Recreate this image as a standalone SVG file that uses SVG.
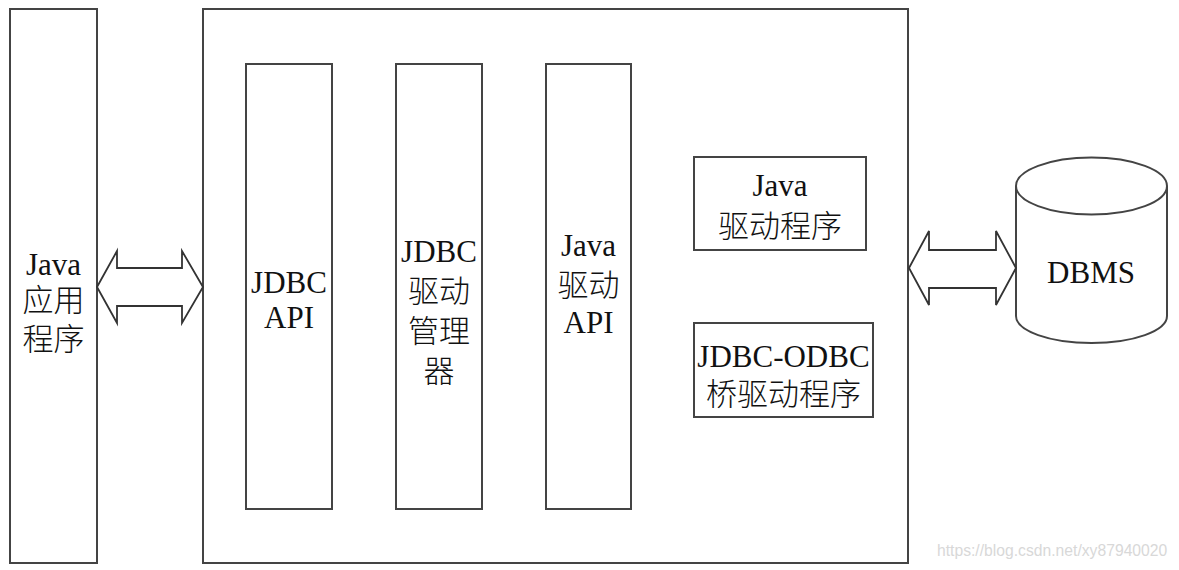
<svg xmlns="http://www.w3.org/2000/svg" width="1179" height="570" viewBox="0 0 1179 570">
<style>
.box{fill:#fff;stroke:#444;stroke-width:2}
.arrow{fill:#fff;stroke:#333;stroke-width:1.8;stroke-linejoin:miter}
.t{font-family:"Liberation Serif","Noto Sans CJK SC",serif;font-size:31px;font-weight:300;fill:#111;text-anchor:middle}
.wm{font-family:"Liberation Sans",Arial,sans-serif;font-size:15.7px;fill:#d8d8d8}
</style>
<rect width="1179" height="570" fill="#fff"/>
<g id="java-app">
<rect class="box" x="10" y="9" width="87" height="554"/>
<text class="t" x="53.5" y="275">Java</text>
<text class="t" x="53.5" y="311">应用</text>
<text class="t" x="53.5" y="350">程序</text>
</g>
<g id="jdbc-container">
<rect class="box" x="203" y="9" width="705" height="554"/>
</g>
<g id="jdbc-api">
<rect class="box" x="246" y="64" width="86" height="445"/>
<text class="t" x="289" y="293">JDBC</text>
<text class="t" x="289" y="328">API</text>
</g>
<g id="jdbc-driver-manager">
<rect class="box" x="396" y="64" width="86" height="445"/>
<text class="t" x="439" y="262">JDBC</text>
<text class="t" x="439" y="302">驱动</text>
<text class="t" x="439" y="342">管理</text>
<text class="t" x="439" y="382">器</text>
</g>
<g id="java-driver-api">
<rect class="box" x="546" y="64" width="85" height="445"/>
<text class="t" x="588.5" y="256">Java</text>
<text class="t" x="588.5" y="296">驱动</text>
<text class="t" x="588.5" y="333">API</text>
</g>
<g id="java-driver">
<rect class="box" x="694" y="157" width="172" height="93"/>
<text class="t" x="780" y="196">Java</text>
<text class="t" x="780" y="237">驱动程序</text>
</g>
<g id="jdbc-odbc-bridge">
<rect class="box" x="694" y="323" width="179" height="94"/>
<text class="t" x="783.5" y="367">JDBC-ODBC</text>
<text class="t" x="783.5" y="405">桥驱动程序</text>
</g>
<g id="dbms">
<path class="box" d="M1016,186 A75.5,28.5 0 0 1 1167,186 L1167,316 A75.5,27 0 0 1 1016,316 Z"/>
<path fill="none" stroke="#444" stroke-width="2" d="M1016,186 A75.5,28.5 0 0 0 1167,186"/>
<text class="t" x="1091" y="283">DBMS</text>
</g>
<g id="connectors">
<polygon class="arrow" points="97,287 117,251 117,268 182,268 182,251 203,287 182,323 182,306 117,306 117,323"/>
<polygon class="arrow" points="909,268 929,231 929,250 996,250 996,231 1016,268 996,305 996,288 929,288 929,305"/>
</g>
<text class="wm" x="937" y="556">https://blog.csdn.net/xy87940020</text>
</svg>
